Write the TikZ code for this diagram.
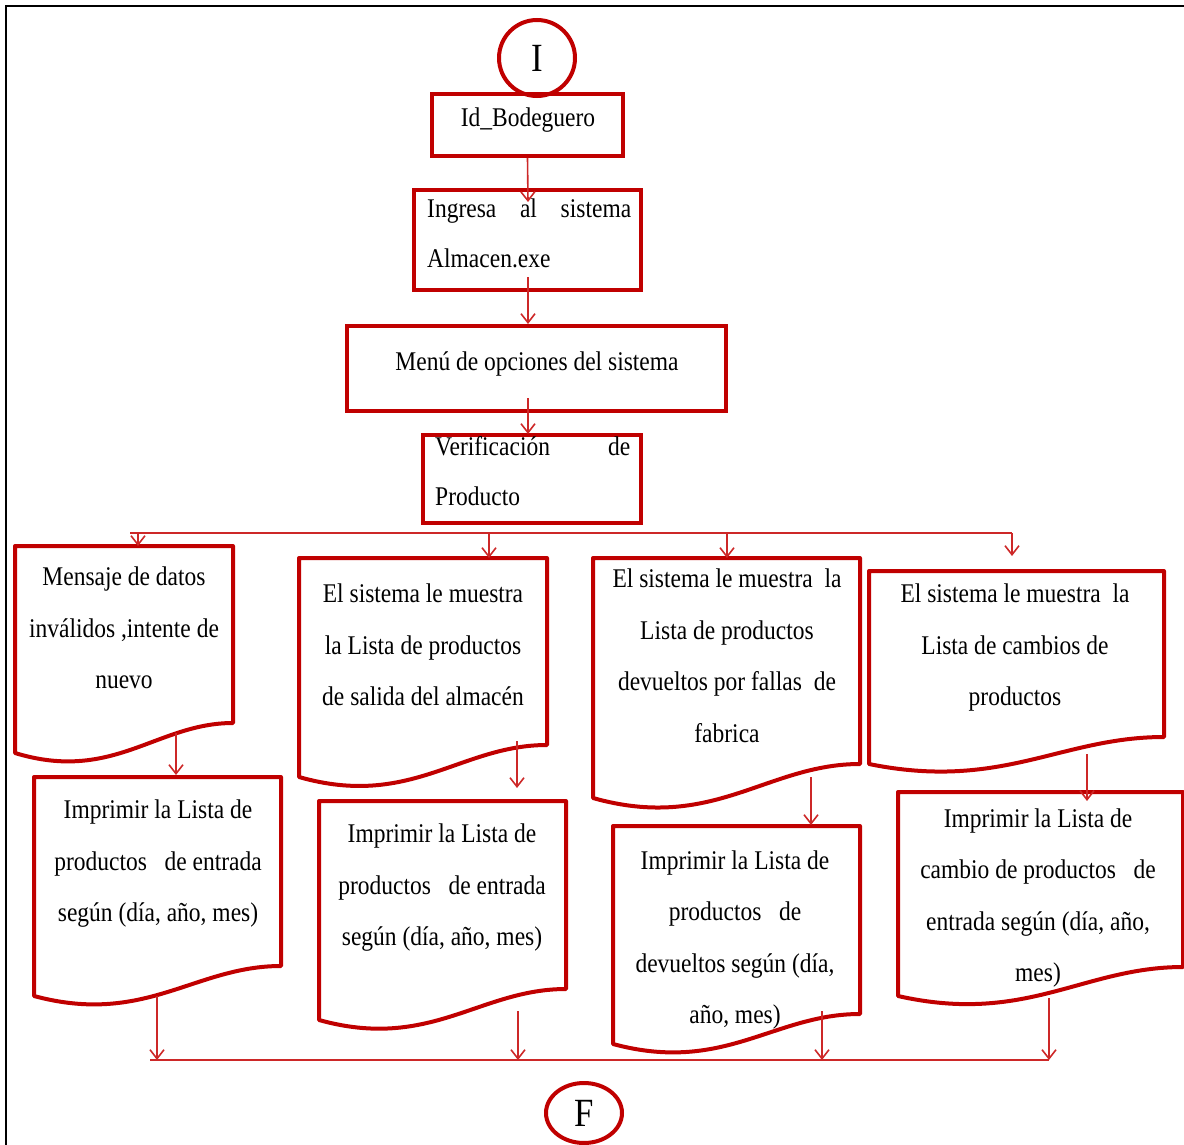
\documentclass[tikz,border=0pt]{standalone}
\usepackage{fontspec}
\setmainfont{Liberation Serif}[FakeStretch=0.87]
\usetikzlibrary{arrows.meta,shapes.geometric}
\definecolor{boxred}{RGB}{192,0,0}
\definecolor{linkred}{RGB}{205,40,40}
\newcommand{\docshape}[5]{%
  \draw[docline] (#1,#2) -- (#3,#2) -- (#3,#4)
    .. controls ({#1+0.65*(#3-#1)},{#4}) and ({#1+0.45*(#3-#1)},{#5+(#5-#4)}) .. (#1,#5) -- cycle;}
\begin{document}
\begin{tikzpicture}[x=1pt,y=-1pt,
  box/.style={draw=boxred,line width=4pt,rectangle,inner sep=0pt},
  docline/.style={draw=boxred,line width=4pt,line join=round},
  term/.style={draw=boxred,line width=4pt,inner sep=0pt,font=\fontsize{40}{40}\selectfont},
  txt/.style={font=\fontsize{27}{51.5}\selectfont,align=center,inner sep=0pt},
  conn/.style={draw=linkred,line width=1.6pt,-{Straight Barb[length=9pt,width=14pt,line width=1.6pt]}},
  plain/.style={draw=linkred,line width=1.6pt}]
\useasboundingbox (0,0) rectangle (1184,1145);
% frame
\draw[black,line width=2.5pt] (1184,6) -- (6,6) -- (6,1145);
% start / end
\node[term,circle,minimum size=76pt] (ini) at (537,58) {I};
\node[term,ellipse,minimum width=76pt,minimum height=60pt] (fin) at (584,1113) {F};
% boxes
\node[box,minimum width=191pt,minimum height=62pt] (id) at (527.5,125) {};
\node[txt] (idt) at (528,120) {Id\_Bodeguero};
\node[box,minimum width=227pt,minimum height=100pt] (ing) at (527.5,240) {};
\node[txt,anchor=base west] (ing1) at (427,217) {\makebox[204pt][s]{Ingresa al sistema}};
\node[txt,anchor=base west] (ing2) at (427,267) {Almacen.exe};
\node[box,minimum width=379pt,minimum height=85pt] (menu) at (536.5,368.5) {};
\node[txt] (menut) at (537,364) {Menú de opciones del sistema};
\node[box,minimum width=218pt,minimum height=88pt] (ver) at (532,479) {};
\node[txt,anchor=base west] (ver1) at (435,455) {\makebox[195pt][s]{Verificación de}};
\node[txt,anchor=base west] (ver2) at (435,505) {Producto};
% documents
\docshape{15}{546}{233}{723}{753}
\docshape{34}{777}{281}{966}{996}
\docshape{299}{558}{547}{745}{777}
\docshape{319}{801}{566}{989}{1020}
\docshape{593}{558}{860}{764}{798}
\docshape{613}{826}{860}{1014}{1044}
\docshape{869}{571}{1164}{737}{764}
\docshape{898}{792}{1183}{967}{996}
\node[txt] (d1) at (124,628) {Mensaje de datos\\inválidos ,intente de\\nuevo};
\node[txt] (p1) at (158,864) {Imprimir la Lista de\\productos\ \ \ de entrada\\según (día, año, mes)};
\node[txt] (d2) at (423,645) {El sistema le muestra\\la Lista de productos\\de salida del almacén};
\node[txt] (p2) at (442,888) {Imprimir la Lista de\\productos\ \ \ de entrada\\según (día, año, mes)};
\node[txt] (d3) at (727,656) {El sistema le muestra\ \ la\\Lista de productos\\devueltos por fallas\ \ de\\fabrica};
\node[txt] (p3) at (735,940) {Imprimir la Lista de\\productos\ \ \ de\\devueltos según (día,\\año, mes)};
\node[txt] (d4) at (1015,648) {El sistema le muestra\ \ la\\Lista de cambios de\\productos};
\node[txt] (p4) at (1038,898) {Imprimir la Lista de\\cambio de productos\ \ \ de\\entrada según (día, año,\\mes)};
% connector coordinates
\coordinate (a1) at (528,202);
\coordinate (a2s) at (528,277);
\coordinate (a2) at (528,324);
\coordinate (a3s) at (528,398);
\coordinate (a3) at (528,434);
\coordinate (bl) at (130,533);
\coordinate (br) at (1012,533);
\coordinate (b1) at (138,533);  \coordinate (b1e) at (138,546);
\coordinate (b2) at (489,533);  \coordinate (b2e) at (489,558);
\coordinate (b3) at (727,533);  \coordinate (b3e) at (727,558);
\coordinate (b4e) at (1012,556);
\coordinate (c1s) at (176,733);  \coordinate (c1e) at (176,775);
\coordinate (c2s) at (517,741);  \coordinate (c2e) at (517,788);
\coordinate (c3s) at (811,777);  \coordinate (c3e) at (811,825);
\coordinate (c4s) at (1087,754); \coordinate (c4e) at (1087,801);
\coordinate (e1s) at (157,996);  \coordinate (e1e) at (157,1060);
\coordinate (e2s) at (518,1011); \coordinate (e2e) at (518,1060);
\coordinate (e3s) at (822,1011); \coordinate (e3e) at (822,1060);
\coordinate (e4s) at (1049,998); \coordinate (e4e) at (1049,1060);
\coordinate (fl) at (150,1060);
% connectors
\draw[conn] (id.south) -- (a1);
\draw[conn] (a2s) -- (a2);
\draw[conn] (a3s) -- (a3);
\draw[plain] (bl) -- (br);
\draw[conn] (b1) -- (b1e);
\draw[conn] (b2) -- (b2e);
\draw[conn] (b3) -- (b3e);
\draw[conn] (br) -- (b4e);
\draw[conn] (c1s) -- (c1e);
\draw[conn] (c2s) -- (c2e);
\draw[conn] (c3s) -- (c3e);
\draw[conn] (c4s) -- (c4e);
\draw[plain] (fl) -- (e4e);
\draw[conn] (e1s) -- (e1e);
\draw[conn] (e2s) -- (e2e);
\draw[conn] (e3s) -- (e3e);
\draw[conn] (e4s) -- (e4e);
\end{tikzpicture}
\end{document}
